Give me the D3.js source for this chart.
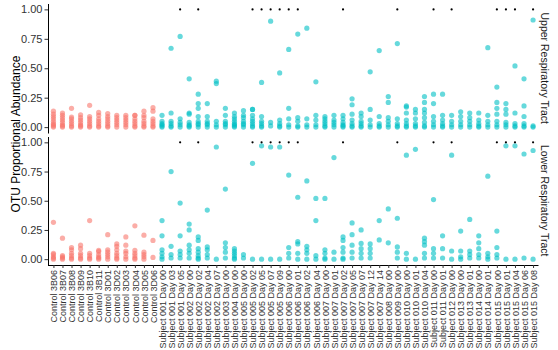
<!DOCTYPE html>
<html><head><meta charset="utf-8">
<script src="https://cdn.jsdelivr.net/npm/d3@7"></script>
<style>body{margin:0;background:#fff}svg{display:block}</style>
</head><body>
<script>
const categories = ["Control 3B06","Control 3B07","Control 3B08","Control 3B09","Control 3B10","Control 3B11",
"Control 3D01","Control 3D02","Control 3D03","Control 3D04","Control 3D05","Control 3D06",
"Subject 001 Day 00","Subject 001 Day 03","Subject 001 Day 05","Subject 002 Day 00","Subject 002 Day 02",
"Subject 002 Day 04","Subject 002 Day 07","Subject 003 Day 00","Subject 004 Day 00","Subject 005 Day 00",
"Subject 005 Day 02","Subject 005 Day 05","Subject 005 Day 07","Subject 005 Day 09","Subject 006 Day 00",
"Subject 006 Day 01","Subject 006 Day 02","Subject 006 Day 04","Subject 007 Day 00","Subject 007 Day 01",
"Subject 007 Day 02","Subject 007 Day 05","Subject 007 Day 07","Subject 007 Day 12","Subject 007 Day 14",
"Subject 008 Day 00","Subject 009 Day 00","Subject 010 Day 00","Subject 010 Day 01","Subject 010 Day 04",
"Subject 011 Day 00","Subject 011 Day 01","Subject 012 Day 00","Subject 013 Day 00","Subject 013 Day 01",
"Subject 014 Day 00","Subject 014 Day 01","Subject 015 Day 00","Subject 015 Day 01","Subject 015 Day 04",
"Subject 015 Day 06","Subject 015 Day 08"];

const panels = ["Upper Respiratory Tract","Lower Respiratory Tract"];

const upperValues = [
[0.135,0.11,0.09,0.07,0.05,0.03,0.02,0.01,0],
[0.12,0.1,0.08,0.06,0.04,0.02,0.01,0],
[0.16,0.085,0.07,0.05,0.03,0.01,0],
[0.105,0.08,0.06,0.04,0.02,0.01,0],
[0.185,0.09,0.07,0.05,0.03,0.01,0],
[0.125,0.1,0.07,0.05,0.03,0.01,0],
[0.115,0.09,0.07,0.05,0.03,0.01,0],
[0.1,0.08,0.06,0.04,0.02,0],
[0.1,0.08,0.06,0.04,0.02,0],
[0.1,0.1,0.07,0.05,0.03,0.01,0],
[0.135,0.1,0.08,0.05,0.03,0.01,0],
[0.165,0.135,0.07,0.05,0.03,0.01,0],
[0.1,0.05,0.03,0.02,0.01,0],
[0.67,0.12,0.05,0.03,0.01,0],
[0.77,0.07,0.04,0.02,0],
[0.41,0.12,0.11,0.04,0.02,0.01,0],
[0.28,0.2,0.16,0.09,0.05,0.03,0.02,0],
[0.2,0.09,0.05,0.03,0.02,0],
[0.39,0.37,0.05,0.02,0],
[0.16,0.1,0.05,0.03,0.02,0],
[0.12,0.09,0.07,0.05,0.03,0.02,0.01,0],
[0.14,0.1,0.08,0.05,0.03,0.02,0],
[0.15,0.15,0.1,0.07,0.05,0.03,0.01,0],
[0.38,0.09,0.05,0.03,0.01,0],
[0.9,0.04,0.01],
[0.46,0.06,0.03,0.01,0],
[0.66,0.16,0.07,0.02,0],
[0.79,0.08,0.05,0.01,0],
[0.84,0.07,0.02,0],
[0.385,0.1,0.06,0.02,0],
[0.09,0.07,0.05,0.03,0.01,0],
[0.1,0.06,0.04,0.02,0],
[0.1,0.07,0.04,0.02,0.01,0],
[0.24,0.19,0.11,0.06,0.03,0.01,0],
[0.12,0.09,0.05,0.03,0.01,0],
[0.47,0.15,0.06,0.02,0],
[0.65,0.09,0.03,0.01,0],
[0.26,0.21,0.08,0.05,0.02,0],
[0.71,0.07,0.03,0.01,0],
[0.18,0.17,0.12,0.06,0.03,0.01,0],
[0.15,0.12,0.07,0.03,0.01,0],
[0.26,0.21,0.15,0.12,0.08,0.04,0.01,0],
[0.28,0.2,0.09,0.05,0.02,0],
[0.28,0.1,0.06,0.03,0.01,0],
[0.1,0.05,0.02,0],
[0.13,0.09,0.05,0.02,0],
[0.12,0.08,0.05,0.02,0],
[0.12,0.06,0.03,0.01,0],
[0.675,0.1,0.05,0.02,0],
[0.34,0.21,0.16,0.11,0.05,0.02,0],
[0.2,0.15,0.11,0.04,0.02,0],
[0.52,0.12,0.03,0.01,0],
[0.41,0.18,0.09,0.03,0.01,0],
[0.91,0.01,0]
];

const lowerValues = [
[0.315,0.05,0.04,0.02,0.01,0],
[0.18,0.03,0.02,0.01,0],
[0.1,0.08,0.05,0.03,0.01,0],
[0.12,0.09,0.05,0.03,0.01,0],
[0.33,0.05,0.03,0.01,0],
[0.075,0.065,0.04,0.02,0.01,0],
[0.21,0.08,0.06,0.04,0.02,0],
[0.13,0.11,0.08,0.05,0.03,0.01,0],
[0.19,0.12,0.07,0.05,0.02,0],
[0.285,0.075,0.05,0.03,0.01,0],
[0.205,0.06,0.04,0.02,0],
[0.16,0.015],
[0.33,0.2,0.08,0.05,0.02,0],
[0.75,0.11,0.04,0.01],
[0.48,0.2,0.07,0.04,0.01],
[0.3,0.25,0.12,0.08,0.05,0.01],
[0.19,0.16,0.09,0.06,0.03,0.01,0],
[0.42,0.105,0.08,0.04,0.01],
[0.96,0],
[0.6,0.14,0.1,0.06,0.01],
[0.09,0.07,0.05,0.03,0.01,0],
[0.04,0.01],
[0.82,0],
[0.97,0],
[0.96,0],
[0.96,0],
[0.72,0.1,0.05,0.01],
[0.53,0.15,0.13,0.05,0],
[0.67,0.11,0.08,0.05,0],
[0.52,0.33,0.03,0],
[0.52,0.08,0.05,0.01,0],
[0.87,0.06,0],
[0.19,0.16,0.1,0.06,0.01,0],
[0.31,0.21,0.12,0.06,0.01],
[0.25,0.135,0.09,0.05,0.01],
[0.13,0.09,0.05,0.01],
[0.33,0.165],
[0.43,0.14],
[0.35,0.105,0.06,0.01],
[0.89,0.05,0],
[0.94,0],
[0.18,0.15,0.12,0.05,0.01],
[0.51,0.09,0.05,0.01],
[0.2,0.09,0.01],
[0.89,0.07,0],
[0.24,0.07,0.02,0],
[0.34,0.07,0.04,0.01],
[0.2,0.14,0.09,0.04,0.01],
[0.71,0.05,0.02,0],
[0.24,0.1,0.04,0.01],
[0.97,0],
[0.97,0],
[0.9,0.01],
[0.93,0]
];

const starred = ["Subject 001 Day 05","Subject 002 Day 02","Subject 005 Day 02","Subject 005 Day 05",
"Subject 005 Day 07","Subject 005 Day 09","Subject 006 Day 00","Subject 006 Day 01","Subject 007 Day 02",
"Subject 009 Day 00","Subject 011 Day 00","Subject 012 Day 00","Subject 015 Day 00","Subject 015 Day 01",
"Subject 015 Day 04","Subject 015 Day 08"];
const starValue = 1.0;
const yTicks = [0, 0.25, 0.5, 0.75, 1];
const yLabel = "OTU Proportional Abundance";

const W = 558, H = 350;
const left = 48, right = 538.5;
const panelRanges = [[133, 3.5], [265, 136.5]];
const font = "'Liberation Sans', Arial, Helvetica, sans-serif";

const svg = d3.select("body").append("svg").attr("width", W).attr("height", H)
  .style("font-family", font);

const x = d3.scalePoint().domain(categories).range([left, right]).padding(0.6);

const seriesByPanel = [upperValues, lowerValues];

panels.forEach((pname, pi) => {
  const y = d3.scaleLinear().domain([-0.05, 1.05]).range(panelRanges[pi]);
  const g = svg.append("g");
  const pts = [];
  seriesByPanel[pi].forEach((vals, ci) => {
    vals.forEach(v => pts.push({cat: categories[ci], v: v, ctrl: categories[ci].startsWith("Control")}));
  });
  g.selectAll("circle.pt").data(pts).enter().append("circle")
    .attr("class", "pt")
    .attr("cx", d => x(d.cat)).attr("cy", d => y(d.v)).attr("r", 2.6)
    .attr("fill", d => d.ctrl ? "#F8766D" : "#00BFC4")
    .attr("fill-opacity", 0.6);
  g.selectAll("circle.star").data(starred).enter().append("circle")
    .attr("class", "star")
    .attr("cx", d => x(d)).attr("cy", y(starValue)).attr("r", 1.1)
    .attr("fill", "#000");

  const ax = g.append("g").attr("transform", `translate(${left},0)`)
    .call(d3.axisLeft(y).tickValues(yTicks).tickFormat(d3.format(".2f")).tickSize(3.5).tickSizeOuter(0).tickPadding(2));
  ax.select(".domain").attr("stroke", "#000").attr("stroke-width", 1);
  ax.selectAll(".tick line").attr("stroke", "#333");
  ax.selectAll(".tick text").attr("font-size", 11).attr("fill", "#333").style("font-family", font);

  const yc = (panelRanges[pi][0] + panelRanges[pi][1]) / 2;
  svg.append("text").attr("transform", `translate(545,${yc}) rotate(90)`)
    .attr("text-anchor", "middle").attr("dominant-baseline", "central")
    .attr("font-size", 10.5).attr("fill", "#1a1a1a").text(pname);

  if (pi === 1) {
    const xa = svg.append("g").attr("transform", `translate(0,${panelRanges[1][0]})`)
      .call(d3.axisBottom(x).tickSize(3).tickSizeOuter(0));
    xa.select(".domain").attr("stroke", "#000").attr("stroke-width", 1)
      .attr("d", `M${left},0.5H${right}`);
    xa.selectAll(".tick line").attr("stroke", "#333");
    xa.selectAll(".tick text").attr("font-size", 9).attr("fill", "#333")
      .style("font-family", font)
      .attr("transform", "rotate(-90)").attr("text-anchor", "end")
      .attr("x", -5).attr("y", 0).attr("dy", "0.35em");
  }
});

svg.append("text").attr("transform", `translate(16,134) rotate(-90)`)
  .attr("text-anchor", "middle").attr("dominant-baseline", "central")
  .attr("font-size", 12).attr("fill", "#000").text(yLabel);
</script>
</body></html>
